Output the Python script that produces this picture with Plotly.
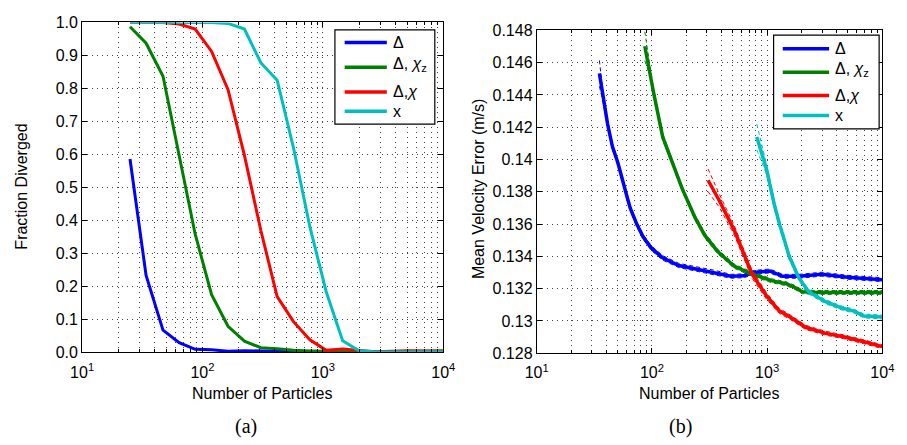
import plotly.graph_objects as go

# ---------------- data: (a) fraction diverged ----------------
n_a = [25, 34, 47, 64, 87, 119, 163, 223, 305, 417, 570, 780, 1067, 1460, 1997, 2730, 3735, 5100, 7000, 10000]
a_delta = [0.586, 0.233, 0.067, 0.029, 0.009, 0.008, 0.003, 0.005, 0.004, 0.003, 0.002, 0.001, 0.001, 0.0, 0.0, 0.0, 0.001, 0.0, 0.0, 0.0]
a_delta_chiz = [0.987, 0.937, 0.837, 0.600, 0.358, 0.175, 0.079, 0.034, 0.014, 0.011, 0.006, 0.004, 0.003, 0.001, 0.001, 0.002, 0.003, 0.003, 0.004, 0.004]
a_delta_chi = [1.0, 1.0, 1.0, 0.995, 0.98, 0.912, 0.796, 0.597, 0.37, 0.169, 0.093, 0.038, 0.006, 0.01, 0.006, 0.002, 0.003, 0.005, 0.004, 0.004]
a_x = [1.0, 1.0, 1.0, 1.0, 1.0, 1.0, 0.997, 0.98, 0.878, 0.825, 0.62, 0.38, 0.183, 0.035, 0.005, 0.001, 0.001, 0.001, 0.002, 0.002]

# ---------------- data: (b) mean velocity error ----------------
n_b_delta = [35, 37.3, 41.2, 45.4, 50.6, 59.8, 64.7, 73.8, 84, 99, 124, 171, 253, 350, 484, 628, 763, 1054, 1368, 1892, 2980, 5000, 10000]
b_delta = [0.14534, 0.14400, 0.14220, 0.14080, 0.13980, 0.13788, 0.13700, 0.13600, 0.13520, 0.13451, 0.13391, 0.13344,
           0.13320, 0.13301, 0.13277, 0.13280, 0.13301, 0.13310, 0.13277, 0.13277, 0.13290, 0.13271, 0.13256]
b_delta_ci = [0.0008, 0.0003, 0.0002, 0.00018, 0.00016, 0.00015, 0.00015, 0.00015, 0.00015, 0.00014, 0.00014, 0.00013,
              0.00013, 0.00013, 0.00012, 0.00012, 0.00012, 0.00012, 0.00012, 0.00012, 0.00012, 0.00012, 0.00012]

n_b_delta_chiz = [86.7, 95.7, 103, 124, 149.5, 183, 237, 288, 373, 516, 738, 1089, 1458, 1700, 2018, 2618, 5000, 10000]
b_delta_chiz = [0.14702, 0.14555, 0.14420, 0.14140, 0.13990, 0.13820, 0.13640, 0.13530, 0.13430, 0.13340, 0.13291,
                0.13250, 0.13231, 0.13212, 0.13181, 0.13177, 0.13177, 0.13177]
b_delta_chiz_ci = [0.0009, 0.0003, 0.00022, 0.0002, 0.00018, 0.00016, 0.00015, 0.00015, 0.00014, 0.00013, 0.00013,
                   0.00012, 0.00012, 0.00012, 0.00012, 0.00012, 0.00012, 0.00012]

n_b_delta_chi = [307, 388, 520, 631, 738, 988, 1273, 1607, 2153, 3177, 4690, 6920, 10000]
b_delta_chi = [0.13872, 0.13740, 0.13560, 0.13410, 0.13291, 0.13155, 0.13063, 0.13021, 0.12961, 0.12925, 0.12901, 0.12871, 0.12841]
b_delta_chi_ci = [0.0007, 0.0004, 0.0003, 0.0003, 0.00025, 0.0002, 0.00016, 0.00014, 0.00013, 0.00012, 0.00012, 0.00012, 0.00012]

n_b_x = [813, 988, 1155, 1281, 1556, 1890, 2296, 3178, 4399, 5698, 6923, 10000]
b_x = [0.14140, 0.13940, 0.13720, 0.13600, 0.13400, 0.13265, 0.13181, 0.13121, 0.13081, 0.13061, 0.13031, 0.13025]
b_x_ci = [0.0008, 0.0003, 0.00025, 0.00022, 0.0002, 0.00016, 0.00014, 0.00013, 0.00012, 0.00012, 0.00012, 0.00012]

# ---------------- labels / ticks ----------------
legend_labels = ["Δ", "Δ, <i>χ</i><sub>z</sub>", "Δ,<i>χ</i>", "x"]
x_tickvals = [10, 100, 1000, 10000]
x_ticktext = ["10<sup>1</sup>", "10<sup>2</sup>", "10<sup>3</sup>", "10<sup>4</sup>"]
x_minor = [m * d for d in (10, 100, 1000) for m in range(2, 10)]
ya_tickvals = [0.0, 0.1, 0.2, 0.3, 0.4, 0.5, 0.6, 0.7, 0.8, 0.9, 1.0]
ya_ticktext = ["0.0", "0.1", "0.2", "0.3", "0.4", "0.5", "0.6", "0.7", "0.8", "0.9", "1.0"]
yb_tickvals = [0.128, 0.130, 0.132, 0.134, 0.136, 0.138, 0.140, 0.142, 0.144, 0.146, 0.148]
yb_ticktext = ["0.128", "0.13", "0.132", "0.134", "0.136", "0.138", "0.14", "0.142", "0.144", "0.146", "0.148"]

colors = ["#0000FF", "#008000", "#FF0000", "#00BFBF"]

W, H = 907, 445
def fx(px):
    return px / W
def fy(py):
    return 1 - py / H

FONT = "Liberation Sans, Arial, sans-serif"

fig = go.Figure()

# (a)
for yv, c in zip([a_delta, a_delta_chiz, a_delta_chi, a_x], colors):
    fig.add_trace(go.Scatter(x=n_a, y=yv, mode="lines", line=dict(color=c, width=3),
                             xaxis="x", yaxis="y", showlegend=False, hoverinfo="skip"))

# (b)
series_b = [(n_b_delta, b_delta, b_delta_ci), (n_b_delta_chiz, b_delta_chiz, b_delta_chiz_ci),
            (n_b_delta_chi, b_delta_chi, b_delta_chi_ci), (n_b_x, b_x, b_x_ci)]
for (nx, yv, ci), c in zip(series_b, colors):
    up = [v + e for v, e in zip(yv, ci)]
    lo = [v - e for v, e in zip(yv, ci)]
    for bound in (up, lo):
        fig.add_trace(go.Scatter(x=nx, y=bound, mode="lines", line=dict(color=c, width=1, dash="4px,3px"),
                                 xaxis="x2", yaxis="y2", showlegend=False, hoverinfo="skip"))
    fig.add_trace(go.Scatter(x=nx, y=yv, mode="lines", line=dict(color=c, width=3.5),
                             xaxis="x2", yaxis="y2", showlegend=False, hoverinfo="skip"))

grid_kw = dict(showgrid=True, gridcolor="#444444", gridwidth=1, griddash="1px,4px")
xcommon = dict(type="log", range=[1, 4], tickmode="array", tickvals=x_tickvals, ticktext=x_ticktext,
               ticks="inside", ticklen=5, tickcolor="black", showline=True, linecolor="black", linewidth=1,
               mirror="ticks", zeroline=False, ticklabelstandoff=5,
               tickfont=dict(family=FONT, size=16, color="black"),
               minor=dict(tickmode="array", tickvals=x_minor, ticks="inside", ticklen=3, tickcolor="black",
                          showgrid=True, gridcolor="#444444", gridwidth=1, griddash="1px,4px"),
               **grid_kw)
ycommon = dict(tickmode="array", ticks="inside", ticklen=5, tickcolor="black", showline=True,
               linecolor="black", linewidth=1, mirror="ticks", zeroline=False,
               tickfont=dict(family=FONT, size=16, color="black"), **grid_kw)

fig.update_layout(
    width=W, height=H, autosize=False,
    margin=dict(l=0, r=0, t=0, b=0),
    paper_bgcolor="white", plot_bgcolor="white",
    xaxis=dict(domain=[fx(72), fx(443)], anchor="y", **xcommon),
    yaxis=dict(domain=[fy(358), fy(15)], anchor="x", range=[0, 1],
               tickvals=ya_tickvals, ticktext=ya_ticktext, **ycommon),
    xaxis2=dict(domain=[fx(539), fx(894)], anchor="y2", **xcommon),
    yaxis2=dict(domain=[fy(359), fy(23.3)], anchor="x2", range=[0.128, 0.148],
                tickvals=yb_tickvals, ticktext=yb_ticktext, **ycommon),
    showlegend=False,
)

ann = []
def text(px, py, s, size=16, family=FONT, angle=0, xanchor="center", yanchor="middle"):
    ann.append(dict(x=fx(px), y=fy(py), xref="paper", yref="paper", text=s, showarrow=False,
                    textangle=angle, xanchor=xanchor, yanchor=yanchor,
                    font=dict(family=family, size=size, color="black")))

text(257, 401, "Number of Particles")
text(716, 401, "Number of Particles")
text(10, 186, "Fraction Diverged", angle=-90)
text(480, 188, "Mean Velocity Error (m/s)", angle=-90)
text(240, 435, "(a)", size=20, family="Liberation Serif, Times New Roman, serif")
text(687, 435, "(b)", size=20, family="Liberation Serif, Times New Roman, serif")

shapes = []
def legend_box(x0, y0, x1, y1, lx0, lx1, tx, rows):
    shapes.append(dict(type="rect", xref="paper", yref="paper", x0=fx(x0), x1=fx(x1), y0=fy(y1), y1=fy(y0),
                       line=dict(color="black", width=1.2), fillcolor="white", layer="above"))
    for (ry, lab, c) in rows:
        shapes.append(dict(type="line", xref="paper", yref="paper", x0=fx(lx0), x1=fx(lx1), y0=fy(ry), y1=fy(ry),
                           line=dict(color=c, width=3.5), layer="above"))
        text(tx, ry - (3 if "sub" in lab else 0), lab, xanchor="left")

legend_box(331.7, 22.7, 434.3, 120.7, 341.7, 385, 389,
           list(zip([36, 61.7, 87.3, 107.3], legend_labels, colors)))
legend_box(782.3, 28.3, 890.7, 125.7, 791.7, 839.3, 843,
           list(zip([42.3, 66.7, 91, 111.7], legend_labels, colors)))

fig.update_layout(annotations=ann, shapes=shapes)
fig.write_html("out.html")
